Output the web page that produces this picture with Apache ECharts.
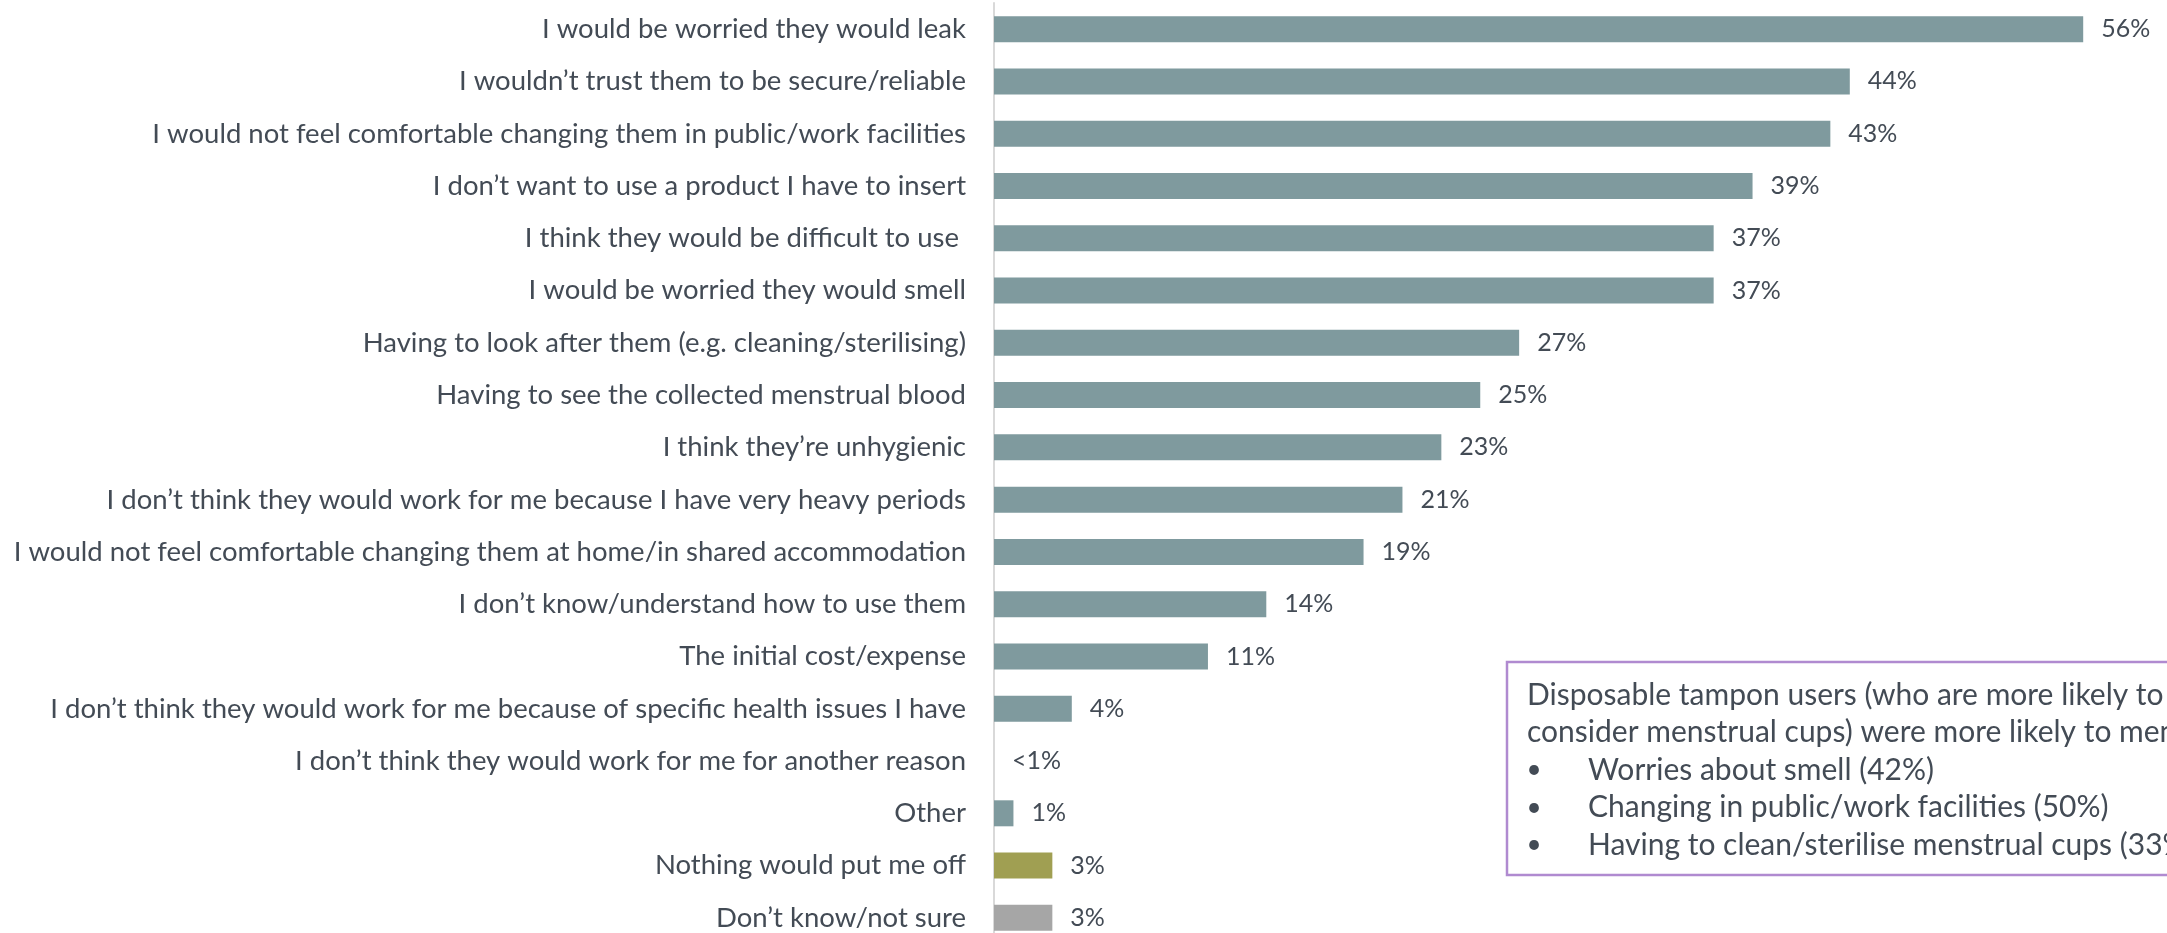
<!DOCTYPE html>
<html>
<head>
<meta charset="utf-8">
<script src="https://cdn.jsdelivr.net/npm/echarts@6/dist/echarts.min.js"></script>
<style>
  html, body { margin: 0; padding: 0; background: #fff; overflow: hidden; }
  #chart { width: 2167px; height: 946px; }
</style>
</head>
<body>
<div id="chart"></div>
<script>
// Reasons that would put respondents off using menstrual cups
const categories = [
  'I would be worried they would leak',
  'I wouldn\u2019t trust them to be secure/reliable',
  'I would not feel comfortable changing them in public/work facilities',
  'I don\u2019t want to use a product I have to insert',
  'I think they would be difficult to use ',
  'I would be worried they would smell',
  'Having to look after them (e.g. cleaning/sterilising)',
  'Having to see the collected menstrual blood',
  'I think they\u2019re unhygienic',
  'I don\u2019t think they would work for me because I have very heavy periods',
  'I would not feel comfortable changing them at home/in shared accommodation',
  'I don\u2019t know/understand how to use them',
  'The initial cost/expense',
  'I don\u2019t think they would work for me because of specific health issues I have',
  'I don\u2019t think they would work for me for another reason',
  'Other',
  'Nothing would put me off',
  'Don\u2019t know/not sure'
];

// Share of respondents (%)
const values = [56, 44, 43, 39, 37, 37, 27, 25, 23, 21, 19, 14, 11, 4, 0, 1, 3, 3];

// Text shown beside each bar
const valueLabels = ['56%', '44%', '43%', '39%', '37%', '37%', '27%', '25%', '23%', '21%',
  '19%', '14%', '11%', '4%', '<1%', '1%', '3%', '3%'];

// Bar fill per row: reasons, "nothing", "don't know"
const barColors = ['#7f9a9e', '#7f9a9e', '#7f9a9e', '#7f9a9e', '#7f9a9e', '#7f9a9e',
  '#7f9a9e', '#7f9a9e', '#7f9a9e', '#7f9a9e', '#7f9a9e', '#7f9a9e', '#7f9a9e',
  '#7f9a9e', '#7f9a9e', '#7f9a9e', '#a09f52', '#a6a6a6'];

// Call-out note
const noteLines = [
  'Disposable tampon users (who are more likely to',
  'consider menstrual cups) were more likely to mention:'
];
const noteBullets = [
  'Worries about smell (42%)',
  'Changing in public/work facilities (50%)',
  'Having to clean/sterilise menstrual cups (33%)'
];

const FONT = 'Lato, "Open Sans", sans-serif';
const TEXT = '#434b55';

const chart = echarts.init(document.getElementById('chart'), null, { renderer: 'canvas' });

// Note box geometry (pixels)
const noteX = 1507, noteY = 662, noteH = 213, noteLine = 37.5, firstLine = 33;
const noteGraphics = [
  {
    type: 'rect',
    shape: { x: noteX, y: noteY, width: 700, height: noteH },
    style: { fill: '#fff', stroke: '#b08ad0', lineWidth: 2.5 },
    z: 10
  }
];
noteLines.forEach((t, i) => {
  noteGraphics.push({
    type: 'text', x: noteX + 20, y: noteY + firstLine + i * noteLine, z: 11,
    style: { text: t, font: '30px ' + FONT, fill: TEXT, textVerticalAlign: 'middle' }
  });
});
noteBullets.forEach((t, i) => {
  const y = noteY + firstLine + (i + 2) * noteLine;
  noteGraphics.push({
    type: 'text', x: noteX + 27, y: y, z: 11,
    style: { text: '\u2022', font: '26px ' + FONT, fill: TEXT,
      textAlign: 'center', textVerticalAlign: 'middle' }
  });
  noteGraphics.push({
    type: 'text', x: noteX + 81, y: y, z: 11,
    style: { text: t, font: '30px ' + FONT, fill: TEXT, textVerticalAlign: 'middle' }
  });
});

chart.setOption({
  animation: false,
  grid: { left: 994, top: 3, right: 6, height: 941, containLabel: false },
  xAxis: {
    type: 'value', min: 0, max: 60, show: false
  },
  yAxis: {
    type: 'category',
    data: categories,
    inverse: true,
    axisLine: { show: true, lineStyle: { color: '#d9d9d9', width: 2 } },
    axisTick: { show: false },
    axisLabel: { color: TEXT, fontSize: 27.5, fontFamily: FONT, margin: 28 }
  },
  series: [{
    type: 'bar',
    barWidth: 26,
    data: values.map((v, i) => ({ value: v, itemStyle: { color: barColors[i] } })),
    label: {
      show: true,
      position: 'right',
      distance: 18,
      color: TEXT,
      fontSize: 25,
      fontFamily: FONT,
      formatter: p => valueLabels[p.dataIndex]
    }
  }],
  graphic: noteGraphics
});
</script>
</body>
</html>
